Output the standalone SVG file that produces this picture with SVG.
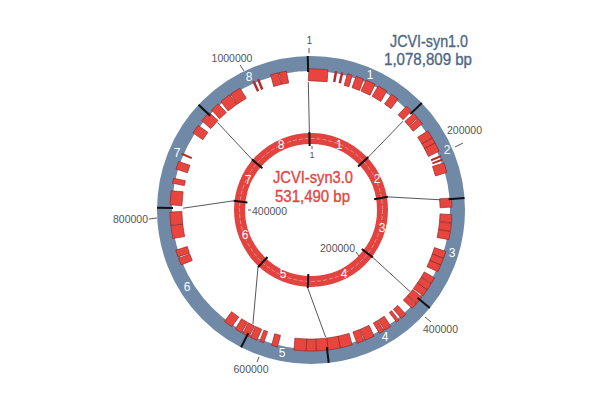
<svg xmlns="http://www.w3.org/2000/svg" width="600" height="398" viewBox="0 0 600 398">
<style>
.ring{fill:none;stroke:#6f89a7;stroke-width:15}
.iring{fill:none;stroke:#e2433f;stroke-width:11}
.b{fill:#e8453f;stroke:#8a2424;stroke-width:0.6}
.t{fill:#b32d2d;stroke:none}
.div{stroke:#111;stroke-width:2}
.con{stroke:#444;stroke-width:0.9;fill:none}
.tick{stroke:#444;stroke-width:0.9}
.pos{font-family:"Liberation Sans",Arial,sans-serif;font-size:10.5px;fill:#555}
.seg{font-family:"Liberation Sans",Arial,sans-serif;font-size:12px;fill:#fff;text-anchor:middle}
.t1{font-family:"Liberation Sans",Arial,sans-serif;font-size:16px;fill:#4d6788;stroke:#4d6788;stroke-width:0.35}
.t3{font-family:"Liberation Sans",Arial,sans-serif;font-size:16px;fill:#e2463f;stroke:#e2463f;stroke-width:0.35}
</style>
<rect width="600" height="398" fill="#fff"/>

<g id="genome-syn1">
<circle class="ring" cx="311" cy="210" r="146.5"/>
<g id="gene-blocks">
<rect class="b" x="301.5" y="69" width="19" height="12" transform="rotate(3 311 210)"/>
<rect class="t" x="309.7" y="69" width="2.5" height="11" transform="rotate(10.3 311 210)"/>
<rect class="t" x="309.7" y="69" width="2.5" height="11" transform="rotate(12.8 311 210)"/>
<rect class="b" x="308.5" y="69" width="5" height="12" transform="rotate(16 311 210)"/>
<rect class="b" x="307" y="69" width="8" height="12" transform="rotate(20.3 311 210)"/>
<rect class="b" x="306" y="69" width="10" height="12" transform="rotate(25 311 210)"/>
<rect class="b" x="306" y="69" width="10" height="12" transform="rotate(30.5 311 210)"/>
<rect class="b" x="307" y="69" width="8" height="12" transform="rotate(36.5 311 210)"/>
<rect class="b" x="307.5" y="69" width="7" height="12" transform="rotate(44 311 210)"/>
<rect class="b" x="308" y="69" width="6" height="12" transform="rotate(48 311 210)"/>
<rect class="b" x="308" y="69" width="6" height="12" transform="rotate(51 311 210)"/>
<rect class="b" x="307" y="69" width="8" height="12" transform="rotate(57.5 311 210)"/>
<rect class="b" x="308" y="69" width="6" height="12" transform="rotate(60.5 311 210)"/>
<rect class="b" x="306.5" y="69" width="9" height="12" transform="rotate(63.5 311 210)"/>
<rect class="t" x="310" y="69" width="2" height="11" transform="rotate(67.5 311 210)"/>
<rect class="t" x="310" y="69" width="2" height="11" transform="rotate(69 311 210)"/>
<rect class="b" x="306" y="69" width="10" height="12" transform="rotate(72.5 311 210)"/>
<rect class="b" x="306.5" y="69" width="9" height="12" transform="rotate(87 311 210)"/>
<rect class="b" x="307" y="69" width="8" height="12" transform="rotate(93.5 311 210)"/>
<rect class="b" x="307" y="69" width="8" height="12" transform="rotate(97 311 210)"/>
<rect class="b" x="307" y="69" width="8" height="12" transform="rotate(100.5 311 210)"/>
<rect class="b" x="307.5" y="69" width="7" height="12" transform="rotate(108.5 311 210)"/>
<rect class="b" x="307.5" y="69" width="7" height="12" transform="rotate(111.5 311 210)"/>
<rect class="b" x="307.5" y="69" width="7" height="12" transform="rotate(114.5 311 210)"/>
<rect class="b" x="308" y="69" width="6" height="12" transform="rotate(120 311 210)"/>
<rect class="b" x="307.5" y="69" width="7" height="12" transform="rotate(123 311 210)"/>
<rect class="b" x="307.5" y="69" width="7" height="12" transform="rotate(126 311 210)"/>
<rect class="b" x="307" y="69" width="8" height="12" transform="rotate(129.8 311 210)"/>
<rect class="b" x="308" y="69" width="6" height="12" transform="rotate(133 311 210)"/>
<rect class="b" x="308" y="69" width="6" height="12" transform="rotate(139 311 210)"/>
<rect class="b" x="309.5" y="69" width="3" height="12" transform="rotate(142 311 210)"/>
<rect class="b" x="307.5" y="69" width="7" height="12" transform="rotate(147 311 210)"/>
<rect class="b" x="308.5" y="69" width="5" height="12" transform="rotate(150 311 210)"/>
<rect class="b" x="306" y="69" width="10" height="12" transform="rotate(155.5 311 210)"/>
<rect class="b" x="307.5" y="69" width="7" height="12" transform="rotate(159.5 311 210)"/>
<rect class="b" x="305" y="69" width="12" height="12" transform="rotate(165.5 311 210)"/>
<rect class="b" x="305" y="69" width="12" height="12" transform="rotate(170.5 311 210)"/>
<rect class="b" x="305" y="69" width="12" height="12" transform="rotate(175.5 311 210)"/>
<rect class="b" x="306" y="69" width="10" height="12" transform="rotate(180 311 210)"/>
<rect class="b" x="305" y="69" width="12" height="12" transform="rotate(184.5 311 210)"/>
<rect class="b" x="308" y="69" width="6" height="12" transform="rotate(195 311 210)"/>
<rect class="b" x="309" y="69" width="4" height="12" transform="rotate(200.5 311 210)"/>
<rect class="b" x="307.5" y="69" width="7" height="12" transform="rotate(204 311 210)"/>
<rect class="b" x="307.5" y="69" width="7" height="12" transform="rotate(207.5 311 210)"/>
<rect class="b" x="307.5" y="69" width="7" height="12" transform="rotate(211 311 210)"/>
<rect class="b" x="306.5" y="69" width="9" height="12" transform="rotate(216 311 210)"/>
<rect class="b" x="307.5" y="69" width="7" height="12" transform="rotate(248.5 311 210)"/>
<rect class="b" x="307.5" y="69" width="7" height="12" transform="rotate(252 311 210)"/>
<rect class="b" x="304.5" y="69" width="13" height="12" transform="rotate(261 311 210)"/>
<rect class="b" x="304.5" y="69" width="13" height="12" transform="rotate(266.5 311 210)"/>
<rect class="b" x="304" y="69" width="14" height="12" transform="rotate(275 311 210)"/>
<rect class="b" x="308.5" y="69" width="5" height="12" transform="rotate(282 311 210)"/>
<rect class="b" x="307" y="69" width="8" height="12" transform="rotate(288.5 311 210)"/>
<rect class="t" x="310" y="69" width="2" height="11" transform="rotate(293.5 311 210)"/>
<rect class="b" x="306.5" y="69" width="9" height="12" transform="rotate(305 311 210)"/>
<rect class="b" x="305.5" y="69" width="11" height="12" transform="rotate(311.5 311 210)"/>
<rect class="b" x="306.5" y="69" width="9" height="12" transform="rotate(317 311 210)"/>
<rect class="b" x="305.5" y="69" width="11" height="12" transform="rotate(322.5 311 210)"/>
<rect class="b" x="305.5" y="69" width="11" height="12" transform="rotate(327.5 311 210)"/>
<rect class="t" x="309.7" y="69" width="2.5" height="11" transform="rotate(336 311 210)"/>
<rect class="t" x="309.7" y="69" width="2.5" height="11" transform="rotate(338 311 210)"/>
<rect class="b" x="307" y="69" width="8" height="12" transform="rotate(345 311 210)"/>
<rect class="b" x="307.5" y="69" width="7" height="12" transform="rotate(348.5 311 210)"/>
</g>
<g id="syn1-dividers">
<line class="div" x1="311" y1="72" x2="311" y2="56" transform="rotate(-1.2 311 210)"/>
<line class="div" x1="311" y1="72" x2="311" y2="56" transform="rotate(46 311 210)"/>
<line class="div" x1="311" y1="72" x2="311" y2="56" transform="rotate(85.5 311 210)"/>
<line class="div" x1="311" y1="72" x2="311" y2="56" transform="rotate(129.5 311 210)"/>
<line class="div" x1="311" y1="72" x2="311" y2="56" transform="rotate(173.4 311 210)"/>
<line class="div" x1="311" y1="72" x2="311" y2="56" transform="rotate(207 311 210)"/>
<line class="div" x1="311" y1="72" x2="311" y2="56" transform="rotate(270.8 311 210)"/>
<line class="div" x1="311" y1="72" x2="311" y2="56" transform="rotate(313.1 311 210)"/>
</g>
<g id="syn1-segment-labels">
<text class="seg" x="370" y="79">1</text>
<text class="seg" x="447" y="154">2</text>
<text class="seg" x="452" y="257">3</text>
<text class="seg" x="385" y="341">4</text>
<text class="seg" x="282" y="357">5</text>
<text class="seg" x="187" y="291">6</text>
<text class="seg" x="177" y="157">7</text>
<text class="seg" x="249" y="81">8</text>
</g>
<g id="syn1-positions">
<line class="tick" x1="309" y1="48" x2="309" y2="53"/>
<text class="pos" x="309.5" y="44" text-anchor="middle">1</text>
<line class="tick" x1="240" y1="65" x2="244" y2="71"/>
<text class="pos" x="232" y="62" text-anchor="middle">1000000</text>
<line class="tick" x1="455" y1="147" x2="463" y2="143"/>
<text class="pos" x="447" y="134">200000</text>
<line class="tick" x1="425" y1="317" x2="431" y2="322"/>
<text class="pos" x="423" y="333">400000</text>
<line class="tick" x1="259" y1="357" x2="257" y2="362"/>
<text class="pos" x="251" y="373" text-anchor="middle">600000</text>
<line class="tick" x1="149" y1="219" x2="157" y2="218"/>
<text class="pos" x="148" y="223" text-anchor="end">800000</text>
</g>
<text id="syn1-title" class="t1"><tspan x="390" y="47" textLength="78" lengthAdjust="spacingAndGlyphs">JCVI-syn1.0</tspan><tspan x="384" y="65" textLength="88" lengthAdjust="spacingAndGlyphs">1,078,809 bp</tspan></text>
</g>

<g id="genome-syn3">
<circle class="iring" cx="311" cy="210" r="71.5"/>
<circle cx="311" cy="210" r="71.5" fill="none" stroke="#fff" stroke-width="0.7" stroke-opacity="0.55" stroke-dasharray="4 2"/>
<g id="syn3-dividers">
<line class="div" x1="311" y1="146" x2="311" y2="132" transform="rotate(-1.2 311 210)"/>
<line class="div" x1="311" y1="146" x2="311" y2="132" transform="rotate(47.3 311 210)"/>
<line class="div" x1="311" y1="146" x2="311" y2="132" transform="rotate(80.3 311 210)"/>
<line class="div" x1="311" y1="146" x2="311" y2="132" transform="rotate(127.5 311 210)"/>
<line class="div" x1="311" y1="146" x2="311" y2="132" transform="rotate(182.4 311 210)"/>
<line class="div" x1="311" y1="146" x2="311" y2="132" transform="rotate(222.8 311 210)"/>
<line class="div" x1="311" y1="146" x2="311" y2="132" transform="rotate(276.8 311 210)"/>
<line class="div" x1="311" y1="146" x2="311" y2="132" transform="rotate(310.6 311 210)"/>
</g>
<g id="syn3-segment-labels">
<text class="seg" x="339" y="149">1</text>
<text class="seg" x="377" y="183">2</text>
<text class="seg" x="382" y="232">3</text>
<text class="seg" x="344" y="278">4</text>
<text class="seg" x="283" y="278">5</text>
<text class="seg" x="245" y="239">6</text>
<text class="seg" x="248" y="184">7</text>
<text class="seg" x="281" y="149">8</text>
</g>
<g id="syn3-positions">
<line class="tick" x1="312" y1="146" x2="312" y2="149"/>
<text class="pos" x="312" y="158" text-anchor="middle" style="font-size:9px">1</text>
<line class="tick" x1="248" y1="210" x2="251" y2="210"/>
<text class="pos" x="252" y="215">400000</text>
<line class="tick" x1="356" y1="252" x2="359" y2="256"/>
<text class="pos" x="355" y="252" text-anchor="end">200000</text>
</g>
<text id="syn3-title" class="t3"><tspan x="273" y="183" textLength="80" lengthAdjust="spacingAndGlyphs">JCVI-syn3.0</tspan><tspan x="275" y="202" textLength="75" lengthAdjust="spacingAndGlyphs">531,490 bp</tspan></text>
</g>

<g id="connectors">
<line class="con" x1="309.4" y1="132" x2="308.3" y2="82"/>
<line class="con" x1="368.3" y1="157.1" x2="403.1" y2="121.1"/>
<line class="con" x1="387.9" y1="196.9" x2="440.6" y2="199.8"/>
<line class="con" x1="372.9" y1="257.5" x2="409.8" y2="291.4"/>
<line class="con" x1="307.7" y1="287.9" x2="325.7" y2="337.2"/>
<line class="con" x1="258" y1="267.2" x2="252.9" y2="324"/>
<line class="con" x1="233.5" y1="200.8" x2="183" y2="208.2"/>
<line class="con" x1="251.8" y1="159.2" x2="217.5" y2="122.5"/>
</g>
</svg>
